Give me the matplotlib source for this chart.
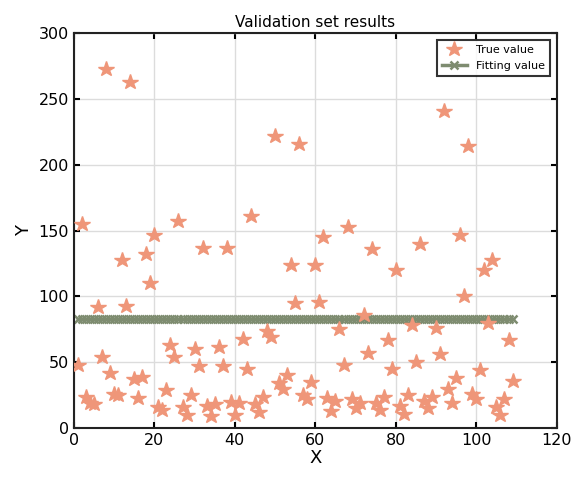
import numpy as np
import matplotlib.pyplot as plt

# validation samples (index, true value)
sample_idx = list(range(1, 110))
true_vals = [48, 155, 24, 19, 18, 92, 54, 273, 42, 26,
             25, 128, 93, 263, 37, 23, 39, 132, 110, 147,
             16, 14, 29, 63, 54, 157, 16, 10, 25, 60,
             47, 137, 17, 9, 18, 62, 47, 137, 20, 10,
             19, 68, 45, 161, 18, 12, 24, 74, 69, 222,
             34, 30, 40, 124, 95, 216, 25, 22, 35, 124,
             96, 145, 23, 13, 21, 75, 48, 153, 22, 15,
             19, 86, 57, 136, 19, 14, 24, 67, 45, 120,
             17, 11, 25, 78, 50, 140, 21, 15, 24, 76,
             56, 241, 30, 19, 38, 147, 100, 214, 26, 22,
             44, 120, 80, 128, 16, 10, 22, 67, 36]
fit_value = 83

fig = plt.figure(figsize=(5.77, 4.86), dpi=100)
ax = fig.add_axes([0.128, 0.119, 0.837, 0.813])

ax.plot(sample_idx, true_vals, linestyle='none', marker='*', markersize=11.5,
        color='#EF9679', label='True value', zorder=3)
ax.plot(sample_idx, [fit_value] * len(sample_idx), color='#7E8C70', linewidth=2.5,
        marker='x', markersize=5.5, markeredgewidth=1.8, label='Fitting value', zorder=2)

ax.set_xlim(0, 120)
ax.set_ylim(0, 300)
ax.set_xticks(np.arange(0, 121, 20))
ax.set_yticks(np.arange(0, 301, 50))
ax.tick_params(direction='in', top=True, right=True, labelsize=11.5, width=1.5, length=4)
ax.grid(True, color='#dcdcdc', linewidth=1)
ax.set_axisbelow(True)
for s in ax.spines.values():
    s.set_linewidth(1.5)
    s.set_color('#222222')

ax.set_title('Validation set results', fontsize=11, pad=4)
ax.set_xlabel('X', fontsize=13, labelpad=1)
ax.set_ylabel('Y', fontsize=13, labelpad=4)

leg = ax.legend(loc='upper right', fontsize=8, frameon=True, fancybox=False,
                borderpad=0.5, handlelength=2.2, borderaxespad=0.6)
leg.get_frame().set_edgecolor('black')
leg.get_frame().set_linewidth(1.5)

fig.savefig('out.png', dpi=100)
